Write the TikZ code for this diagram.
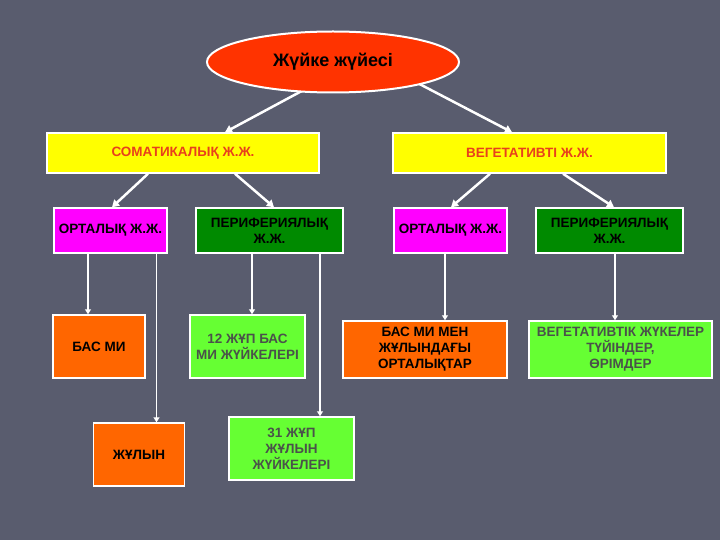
\documentclass[tikz,border=0pt]{standalone}
\usepackage{fontspec}
\setmainfont{Liberation Sans}
\usetikzlibrary{arrows.meta,shapes.geometric}
\definecolor{bgc}{HTML}{595C6E}
\definecolor{ellc}{HTML}{FF3300}
\definecolor{yelc}{HTML}{FFFF00}
\definecolor{magc}{HTML}{FF00FF}
\definecolor{dgrc}{HTML}{008A00}
\definecolor{orac}{HTML}{FF6600}
\definecolor{lgrc}{HTML}{66FF33}
\definecolor{redtxt}{HTML}{E8401C}
\definecolor{graytxt}{HTML}{4A524A}
\pgfdeclarelayer{back}
\pgfdeclarelayer{conn}
\pgfsetlayers{back,conn,main}
\tikzset{
  box/.style={draw=white, line width=1.5pt, inner sep=1pt, align=center,
    font=\bfseries\fontsize{13.5}{16}\selectfont},
  bigarrow/.style={draw=white, line width=2.5pt, -{Triangle[width=8pt,length=7pt]}},
  smallarrow/.style={draw=white, line width=1.5pt, -{Triangle[width=6pt,length=5pt]}}
}
\begin{document}
\begin{tikzpicture}[x=1pt,y=-1pt]
\begin{pgfonlayer}{back}
\fill[bgc] (0,0) rectangle (720,540);
\end{pgfonlayer}
\useasboundingbox (0,0) rectangle (720,540);

\node[ellipse, draw=white, line width=2pt, fill=ellc, minimum width=252pt, minimum height=61pt,
  inner sep=0pt, font=\bfseries\fontsize{18}{21}\selectfont] (ell) at (333,62) {Жүйке жүйесі};

\node[box, fill=yelc, text=redtxt, minimum width=272pt, minimum height=40pt] (soma) at (183,153) {СОМАТИКАЛЫҚ Ж.Ж.};
\node[box, fill=yelc, text=redtxt, minimum width=273pt, minimum height=40pt] (veg) at (529.5,153) {ВЕГЕТАТИВТІ Ж.Ж.};

\node[box, fill=magc, minimum width=113pt, minimum height=45pt] (ort1) at (110.5,230.5) {ОРТАЛЫҚ Ж.Ж.};
\node[box, fill=dgrc, minimum width=147pt, minimum height=45pt] (per1) at (269.5,230.5) {ПЕРИФЕРИЯЛЫҚ\\Ж.Ж.};
\node[box, fill=magc, minimum width=113pt, minimum height=45pt] (ort2) at (450.5,230.5) {ОРТАЛЫҚ Ж.Ж.};
\node[box, fill=dgrc, minimum width=147pt, minimum height=45pt] (per2) at (609.5,230.5) {ПЕРИФЕРИЯЛЫҚ\\Ж.Ж.};

\node[box, fill=orac, minimum width=92pt, minimum height=63pt] (bas) at (99,346.5) {БАС МИ};
\node[box, fill=lgrc, text=graytxt, minimum width=115pt, minimum height=63pt] (n12) at (247.5,346.5) {12 ЖҰП БАС\\МИ ЖҮЙКЕЛЕРІ};
\node[box, fill=orac, minimum width=164pt, minimum height=57pt] (basmen) at (425,349.5) {БАС МИ МЕН\\ЖҰЛЫНДАҒЫ\\ОРТАЛЫҚТАР};
\node[box, fill=lgrc, text=graytxt, minimum width=183pt, minimum height=57pt] (veg2) at (620.5,349.5) {ВЕГЕТАТИВТІК ЖҮКЕЛЕР\\ТҮЙІНДЕР,\\ӨРІМДЕР};

\node[box, fill=orac, minimum width=91pt, minimum height=63pt] (zh) at (139,454.5) {ЖҰЛЫН};
\node[box, fill=lgrc, text=graytxt, minimum width=125pt, minimum height=63pt] (n31) at (291.5,448.5) {31 ЖҰП\\ЖҰЛЫН\\ЖҮЙКЕЛЕРІ};

\begin{pgfonlayer}{conn}
\draw[bigarrow] ([shift={(-25.5,25.9)}]ell.center) -- ([xshift=42pt]soma.north);
\draw[bigarrow] ([shift={(85.5,21.5)}]ell.center) -- ([xshift=-17.5pt]veg.north);
\end{pgfonlayer}

\draw[bigarrow] ([xshift=-35pt]soma.south) -- ([xshift=1.5pt]ort1.north);
\draw[bigarrow] ([xshift=52pt]soma.south) -- ([xshift=4.5pt]per1.north);
\draw[bigarrow] ([xshift=-39.5pt]veg.south) -- ([xshift=0.5pt]ort2.north);
\draw[bigarrow] ([xshift=33.5pt]veg.south) -- ([xshift=4.5pt]per2.north);

\draw[smallarrow] ([xshift=-22.5pt]ort1.south) -- ([xshift=-22.5pt]ort1.south |- bas.north);
\draw[smallarrow] ([xshift=46pt]ort1.south) -- ([xshift=46pt]ort1.south |- zh.north);
\draw[smallarrow] ([xshift=-17.5pt]per1.south) -- ([xshift=-17.5pt]per1.south |- n12.north);
\draw[smallarrow] ([xshift=50.5pt]per1.south) -- ([xshift=50.5pt]per1.south |- n31.north);
\draw[smallarrow] ([xshift=-5.5pt]ort2.south) -- ([xshift=-5.5pt]ort2.south |- basmen.north);
\draw[smallarrow] ([xshift=5.5pt]per2.south) -- ([xshift=5.5pt]per2.south |- veg2.north);
\end{tikzpicture}
\end{document}
